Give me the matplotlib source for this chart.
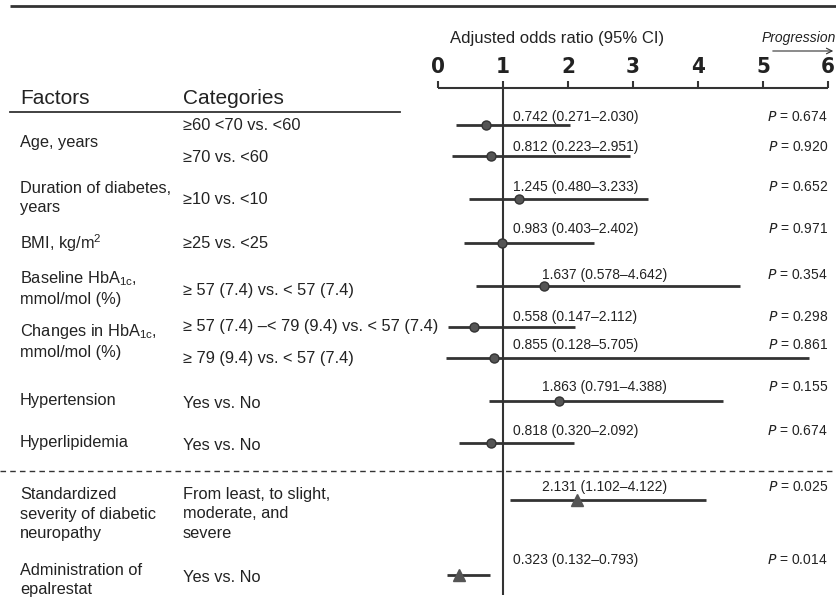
import matplotlib
matplotlib.use("Agg")
import matplotlib.pyplot as plt
from matplotlib.transforms import blended_transform_factory

plt.rcParams["font.family"] = ["Liberation Sans", "DejaVu Sans"]
plt.rcParams["mathtext.default"] = "regular"

# Multivariable logistic regression results
factors = [
    "Age, years",
    "Duration of diabetes,\nyears",
    "BMI, kg/m$^2$",
    "Baseline HbA$_{1c}$,\nmmol/mol (%)",
    "Changes in HbA$_{1c}$,\nmmol/mol (%)",
    "Hypertension",
    "Hyperlipidemia",
    "Standardized\nseverity of diabetic\nneuropathy",
    "Administration of\nepalrestat",
]
categories = [
    "≥60 <70 vs. <60",
    "≥70 vs. <60",
    "≥10 vs. <10",
    "≥25 vs. <25",
    "≥ 57 (7.4) vs. < 57 (7.4)",
    "≥ 57 (7.4) –< 79 (9.4) vs. < 57 (7.4)",
    "≥ 79 (9.4) vs. < 57 (7.4)",
    "Yes vs. No",
    "Yes vs. No",
    "From least, to slight,\nmoderate, and\nsevere",
    "Yes vs. No",
]
odds = [0.742, 0.812, 1.245, 0.983, 1.637, 0.558, 0.855, 1.863, 0.818, 2.131, 0.323]
lower = [0.271, 0.223, 0.480, 0.403, 0.578, 0.147, 0.128, 0.791, 0.320, 1.102, 0.132]
upper = [2.030, 2.951, 3.233, 2.402, 4.642, 2.112, 5.705, 4.388, 2.092, 4.122, 0.793]
p_values = ["0.674", "0.920", "0.652", "0.971", "0.354", "0.298",
            "0.861", "0.155", "0.674", "0.025", "0.014"]
markers = ["o"] * 9 + ["^"] * 2
ticks = [0, 1, 2, 3, 4, 5, 6]

# vertical layout in pixels from the top
row_y = [125, 156, 199, 243, 286, 327, 358, 401, 443, 500, 575]
label_y = [117, 147, 187, 229, 275, 317, 345, 387, 431, 487, 560]
cat_y = [125, 157, 200, 243, 290, 327, 358, 403, 445, 514, 577]
factor_y = [142, 198, 243, 288, 341, 400, 443, 514, 580]

W, H = 837, 613
x0_px, unit_px = 438, 65  # where OR=0 sits and pixels per unit

txt = "#222222"
ink = "#333333"

fig = plt.figure(figsize=(W / 100, H / 100), dpi=100)
ax = fig.add_axes([0, 0, 1, 1])
ax.set_xlim(-x0_px / unit_px, (W - x0_px) / unit_px)
ax.set_ylim(H, 0)
ax.axis("off")
tr = blended_transform_factory(ax.transAxes, ax.transData)

# table rules
ax.plot([10 / W, 1], [6, 6], color=ink, lw=2, transform=tr, solid_capstyle="butt")
ax.plot([10 / W, 400 / W], [112, 112], color=ink, lw=1.3, transform=tr)
ax.plot([0, 1], [471, 471], color=ink, lw=1, ls=(0, (4, 3)), transform=tr)

# headers
ax.text(20 / W, 98, "Factors", fontsize=15, color=txt, va="center", transform=tr)
ax.text(183 / W, 98, "Categories", fontsize=15, color=txt, va="center", transform=tr)
ax.text(557 / W, 38, "Adjusted odds ratio (95% CI)", fontsize=12, color=txt,
        ha="center", va="center", transform=tr)
ax.text(836 / W, 38, "Progression", fontsize=10, style="italic", color=txt,
        ha="right", va="center", transform=tr)
ax.annotate("", xy=(836 / W, 51), xytext=(770 / W, 51), xycoords=tr,
            arrowprops=dict(arrowstyle="->", lw=0.8, color=ink))

# odds ratio scale
ax.hlines(88, ticks[0], ticks[-1], color=ink, lw=1.5)
ax.vlines(ticks, 81, 88, color=ink, lw=1.5)
for t in ticks:
    ax.text(t, 67, str(t), fontsize=16, fontweight="bold", color=txt,
            family="DejaVu Sans", fontstretch="condensed",
            ha="center", va="center")
ax.vlines(1, 88, 595, color=ink, lw=1.5)

# factor and category columns
for name, y in zip(factors, factor_y):
    ax.text(20 / W, y, name, fontsize=11.8, color=txt, va="center",
            linespacing=1.35, transform=tr)
for name, y in zip(categories, cat_y):
    ax.text(183 / W, y, name, fontsize=11.8, color=txt, va="center",
            linespacing=1.35, transform=tr)

# estimates with confidence intervals
for i in range(len(odds)):
    y = row_y[i]
    ax.hlines(y, lower[i], upper[i], color=ink, lw=2)
    circle = markers[i] == "o"
    ax.plot(odds[i], y, marker=markers[i], ms=6.5 if circle else 8,
            color="#555555", mec=ink if circle else "#555555", mew=1)
    lx = 1.15 if odds[i] < 1.5 else 1.6
    ax.text(lx, label_y[i], f"{odds[i]:.3f} ({lower[i]:.3f}–{upper[i]:.3f})",
            fontsize=10, color=txt, va="center")
    ax.text(6, label_y[i], f"$\\it{{P}}$ = {p_values[i]}", fontsize=10,
            color=txt, ha="right", va="center")

fig.savefig("out.png", dpi=100)
